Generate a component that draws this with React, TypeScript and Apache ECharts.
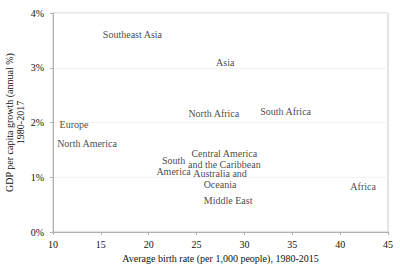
import React, { useEffect, useRef } from "react";
import * as echarts from "echarts";

const regions = [
  "Southeast Asia",
  "Asia",
  "North Africa",
  "South Africa",
  "Europe",
  "North America",
  "South\nAmerica",
  "Central America\nand the Caribbean",
  "Australia and\nOceania",
  "Middle East",
  "Africa",
];
const birthRate = [18.3, 28.0, 26.8, 34.3, 12.2, 13.55, 22.6, 27.9, 27.45, 28.3, 42.4];
const gdpGrowth = [3.6, 3.09, 2.16, 2.21, 1.97, 1.61, 1.21, 1.34, 0.96, 0.57, 0.84];
const xTicks = [10, 15, 20, 25, 30, 35, 40, 45];
const yTicks = [0, 1, 2, 3, 4];

const FONT = "'Liberation Serif', 'Times New Roman', serif";

export default function App() {
  const ref = useRef<HTMLDivElement>(null);
  useEffect(() => {
    if (!ref.current) return;
    const chart = echarts.init(ref.current, undefined, { renderer: "svg" });
    chart.setOption({
      animation: false,
      textStyle: { fontFamily: FONT },
      grid: {
        left: 53,
        right: 12,
        top: 13,
        bottom: 35,
        outerBoundsMode: "none",
        containLabel: false,
        show: true,
        borderColor: "#c8c8c8",
        borderWidth: 1,
      },
      xAxis: {
        type: "value",
        min: xTicks[0],
        max: xTicks[xTicks.length - 1],
        interval: 5,
        name: "Average birth rate (per 1,000 people), 1980-2015",
        nameLocation: "middle",
        nameGap: 21,
        nameMoveOverlap: false,
        nameTextStyle: { fontFamily: FONT, fontSize: 10, color: "#111" },
        axisLine: { show: true, lineStyle: { color: "#b0b0b0" } },
        axisTick: { show: true, length: 3, lineStyle: { color: "#b0b0b0" } },
        axisLabel: { fontFamily: FONT, fontSize: 10, color: "#111", margin: 7 },
        splitLine: { show: false },
      },
      yAxis: {
        type: "value",
        min: yTicks[0],
        max: yTicks[yTicks.length - 1],
        interval: 1,
        name: "GDP per capita growth (annual %)\n1980-2017",
        nameLocation: "middle",
        nameGap: 27,
        nameMoveOverlap: false,
        nameTextStyle: { fontFamily: FONT, fontSize: 10, color: "#111", lineHeight: 11 },
        axisLine: { show: true, lineStyle: { color: "#b0b0b0" } },
        axisTick: { show: true, length: 3, lineStyle: { color: "#b0b0b0" } },
        axisLabel: {
          fontFamily: FONT,
          fontSize: 10,
          color: "#111",
          margin: 9,
          formatter: (v: number) => v + "%",
        },
        splitLine: { show: true, lineStyle: { color: "#f3f3f3" } },
      },
      series: [
        {
          type: "scatter",
          symbolSize: 0,
          data: regions.map((r, i) => ({ name: r, value: [birthRate[i], gdpGrowth[i]] })),
          label: {
            show: true,
            position: "inside",
            formatter: (p: any) => p.name,
            fontFamily: FONT,
            fontSize: 10,
            color: "#111",
            lineHeight: 11,
            align: "center",
            verticalAlign: "middle",
          },
        },
      ],
    });
    return () => chart.dispose();
  }, []);
  return <div ref={ref} style={{ width: 400, height: 267, position: "absolute", left: 0, top: 0, background: "#fff" }} />;
}
